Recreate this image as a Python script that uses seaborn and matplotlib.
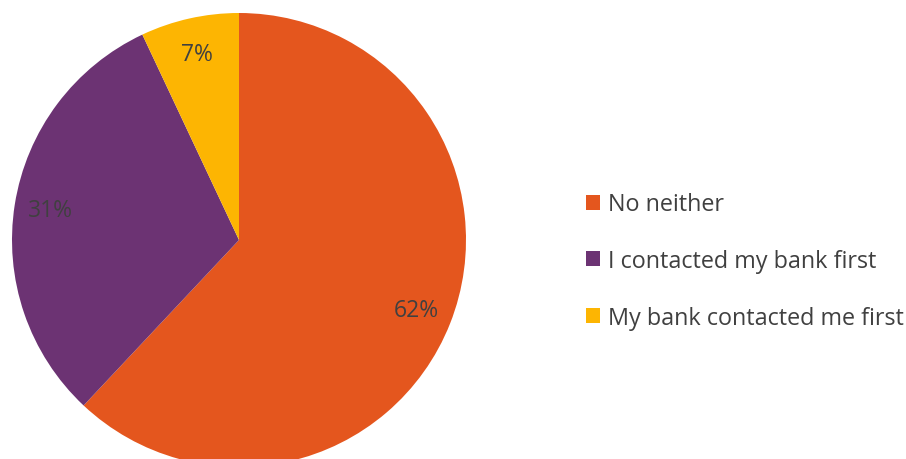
import matplotlib
matplotlib.use("Agg")
import matplotlib.pyplot as plt
import seaborn as sns

# Data
labels = ["No neither", "I contacted my bank first", "My bank contacted me first"]
shares = [62, 31, 7]
colors = ["#E4561E", "#6C3373", "#FDB502"]

sns.set_theme(style="white")
plt.rcParams["font.family"] = ["Open Sans", "DejaVu Sans"]

fig = plt.figure(figsize=(9.06, 4.60), dpi=100)
W, H = 906, 460
cx, cy, r = 239, 241, 227
ax = fig.add_axes([(cx - r) / W, (H - cy - r) / H, 2 * r / W, 2 * r / H])

wedges, texts, autotexts = ax.pie(
    shares, colors=sns.color_palette(colors), startangle=90, counterclock=False,
    autopct="%1.0f%%", pctdistance=0.84, radius=1,
    textprops=dict(color="#404040", fontsize=16.5),
    wedgeprops=dict(linewidth=0),
)
ax.set_xlim(-1, 1)
ax.set_ylim(-1, 1)
ax.set_aspect("equal")
ax.axis("off")

leg = fig.legend(
    wedges, labels, loc="center left",
    bbox_to_anchor=(586 / W, (H - 262) / H),
    frameon=False, fontsize=16.8, labelcolor="#404040",
    handlelength=0.6, handleheight=0.6, handletextpad=0.35,
    labelspacing=1.4, borderaxespad=0, borderpad=0,
)

fig.savefig("out.png", dpi=100)
